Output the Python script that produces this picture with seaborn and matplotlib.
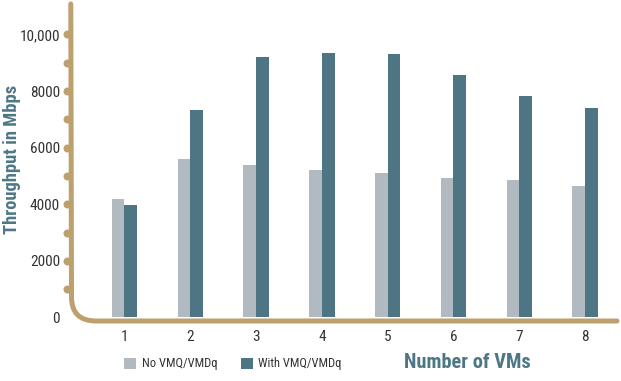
import numpy as np
import pandas as pd
import seaborn as sns
import matplotlib
matplotlib.use("Agg")
import matplotlib.pyplot as plt
from matplotlib import font_manager as fm
from matplotlib.path import Path
from matplotlib.patches import PathPatch
from matplotlib import transforms

# Throughput (Mbps) by number of virtual machines
vm_counts = ["1", "2", "3", "4", "5", "6", "7", "8"]
no_vmq = [4180, 5600, 5390, 5210, 5100, 4920, 4850, 4640]
with_vmq = [3990, 7330, 9200, 9350, 9310, 8570, 7830, 7400]
series_names = ["No VMQ/VMDq", "With VMQ/VMDq"]
y_ticks = [0, 2000, 4000, 6000, 8000, 10000]
y_tick_labels = ["0", "2000", "4000", "6000", "8000", "10,000"]

df = pd.DataFrame({
    "vms": vm_counts * 2,
    "throughput": no_vmq + with_vmq,
    "mode": [series_names[0]] * len(vm_counts) + [series_names[1]] * len(vm_counts),
})

W, H = 621, 381
sns.set_theme(style="white")


def pick_condensed():
    """Return (family, stretch, scale) for a narrow sans face if one is installed."""
    narrow = ("condensed", "semi-condensed", "extra-condensed", "ultra-condensed")
    fonts = fm.fontManager.ttflist
    for fam in ("Liberation Sans Narrow", "Arial Narrow", "Roboto Condensed",
                "Open Sans Condensed", "Noto Sans Condensed", "DejaVu Sans Condensed"):
        if any(f.name == fam for f in fonts):
            return fam, "normal", 1.0
    for fam in ("Noto Sans", "Open Sans", "DejaVu Sans", "Roboto", "Inter"):
        if any(f.name == fam and f.stretch in narrow for f in fonts):
            return fam, "condensed", 1.0
    return "Liberation Sans", "normal", 0.86


FAMILY, STRETCH, SCALE = pick_condensed()
plt.rcParams["font.family"] = [FAMILY, "DejaVu Sans"]
plt.rcParams["font.stretch"] = STRETCH

TAN = "#BCA06E"
GRAY = "#B0BAC0"
TEAL = "#4E7584"
LABEL = "#4E7786"
TXT = "#333333"

fig = plt.figure(figsize=(W / 100, H / 100), dpi=100)
ax_l, ax_r, ax_b, ax_t = 71.5, 619, 321, 3
ax = fig.add_axes([ax_l / W, (H - ax_b) / H, (ax_r - ax_l) / W, (ax_b - ax_t) / H])

sns.barplot(data=df, x="vms", y="throughput", hue="mode", order=vm_counts,
            hue_order=series_names, palette=[GRAY, TEAL], saturation=1,
            width=0.386, gap=0, linewidth=0, ax=ax)

handles, labels = ax.get_legend_handles_labels()
if ax.get_legend() is not None:
    ax.get_legend().remove()

ax.set_xlim(-0.805, 7.517)
ax.set_ylim(-124, 11113)
for s in ax.spines.values():
    s.set_visible(False)
ax.set_xlabel("")
ax.set_ylabel("")
ax.set_yticks(y_ticks)
ax.set_yticklabels(y_tick_labels)
ax.tick_params(axis="y", length=0, pad=8.3, labelsize=11 * SCALE, labelcolor=TXT)
ax.tick_params(axis="x", length=0, pad=6.5, labelsize=11 * SCALE, labelcolor=TXT)
ax.grid(False)

# Rounded L-shaped axis drawn in pixel space
px = transforms.Affine2D().scale(1 / W, 1 / H) + fig.transFigure
verts = [(70.8, H - 4), (71.5, H - 297), (71.5, H - 321), (96, H - 321), (617, H - 321)]
codes = [Path.MOVETO, Path.LINETO, Path.CURVE3, Path.CURVE3, Path.LINETO]
axis_path = PathPatch(Path(verts, codes), transform=px, fill=False, edgecolor=TAN,
                      linewidth=3.6, capstyle="round", joinstyle="round",
                      clip_on=False, zorder=5)
fig.add_artist(axis_path)

# Knobs on the vertical axis every 1000 Mbps
knob_tr = transforms.blended_transform_factory(ax.transAxes, ax.transData)
knob_y = np.arange(1000, 10001, 1000)
ax.scatter(np.full(len(knob_y), -0.0088), knob_y, s=33, color=TAN, linewidths=0,
           transform=knob_tr, clip_on=False, zorder=6)

fig.text(12 / W, 1 - 159.5 / H, "Throughput in Mbps", rotation=90, ha="center",
         va="center", fontsize=13.3 * SCALE, fontweight="bold", color=LABEL)
fig.text(467.5 / W, 1 - 363 / H, "Number of VMs", ha="center", va="center",
         fontsize=14.7 * SCALE, fontweight="bold", color=LABEL)

fig.legend(handles, labels, loc="center left", bbox_to_anchor=(124 / W, 1 - 364 / H),
           ncol=2, frameon=False, fontsize=9 * SCALE, handlelength=0.96 / SCALE,
           handleheight=0.96 / SCALE, handletextpad=0.48 / SCALE,
           columnspacing=1.84 / SCALE, borderpad=0, borderaxespad=0,
           labelcolor=TXT)

fig.savefig("out.png", dpi=100, facecolor="white")
